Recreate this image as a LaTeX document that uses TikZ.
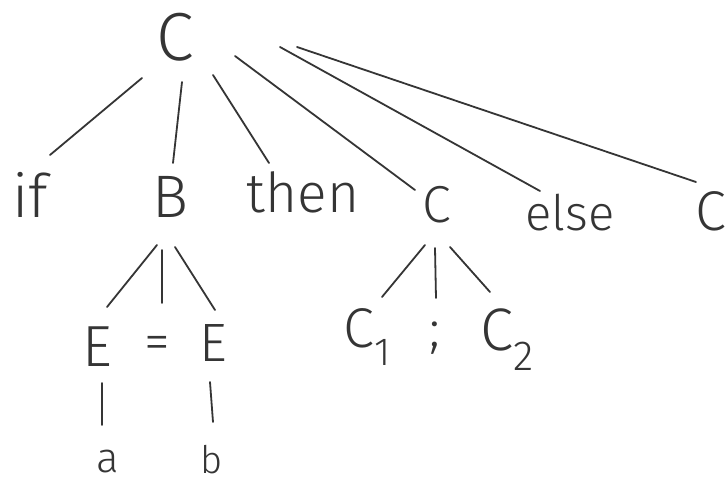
\documentclass[tikz,border=0pt]{standalone}
\usepackage{fontspec}
\setmainfont{Fira Sans}[UprightFont={* Light}]
\definecolor{pencil}{HTML}{353535}
\begin{document}
\begin{tikzpicture}[x=1pt,y=-1pt,
  tok/.style={inner sep=0pt, text=pencil, font=\fontsize{#1}{#1}\selectfont},
  stroke/.style={draw=pencil, line width=1.8pt, line cap=round}]
\useasboundingbox[fill=white] (0,0) rectangle (726,484);

% symbols of the derivation tree
\node[tok=68] (root) at (175,37) {C};
\node[tok=60] (if) at (30,195) {if};
\node[tok=60] (B) at (170,197) {B};
\node[tok=55] (then) at (303,192) {then};
\node[tok=52] (cmid) at (437,205) {C};
\node[tok=49] (else) at (570,213) {else};
\node[tok=56] (clast) at (711,211) {C};
\node[tok=58] (E1) at (97,347) {E};
\node[tok=52] (eq) at (157,348) {=};
\node[tok=54] (E2) at (213,343) {E};
\node[tok=56] (c1) at (367,337) {C\textsubscript{1}};
\node[tok=52] (semi) at (435,338) {;};
\node[tok=60] (c2) at (507,340) {C\textsubscript{2}};
\node[tok=42] (a) at (108,462) {a};
\node[tok=38] (b) at (212,460) {b};

% branches below the root
\draw[stroke] ([shift={(-33,41)}]root.center) -- ([shift={(20,-40)}]if.center);
\draw[stroke] ([shift={(7,45)}]root.center) -- ([shift={(3,-34)}]B.center);
\draw[stroke] ([shift={(38,38)}]root.center) -- ([shift={(-34,-29)}]then.center);
\draw[stroke] ([shift={(60,19)}]root.center) -- ([shift={(-22,-15)}]cmid.center);
\draw[stroke] ([shift={(105,10)}]root.center) -- ([shift={(-30,-22)}]else.center);
\draw[stroke] ([shift={(122,10)}]root.center) -- ([shift={(-15,-29)}]clast.center);

% branches below B
\draw[stroke] ([shift={(-13,48)}]B.center) -- ([shift={(10,-40)}]E1.center);
\draw[stroke] ([shift={(-8,53)}]B.center) -- ([shift={(5,-45)}]eq.center);
\draw[stroke] ([shift={(5,50)}]B.center) -- ([shift={(2,-33)}]E2.center);
\draw[stroke] ([shift={(5,36)}]E1.center) -- ([shift={(-6,-37)}]a.center);
\draw[stroke] ([shift={(-3,39)}]E2.center) -- ([shift={(1,-38)}]b.center);

% branches below the inner C
\draw[stroke] ([shift={(-12,40)}]cmid.center) -- ([shift={(15,-40)}]c1.center);
\draw[stroke] ([shift={(-2,43)}]cmid.center) -- ([shift={(1,-40)}]semi.center);
\draw[stroke] ([shift={(13,42)}]cmid.center) -- ([shift={(-17,-48)}]c2.center);
\end{tikzpicture}
\end{document}
